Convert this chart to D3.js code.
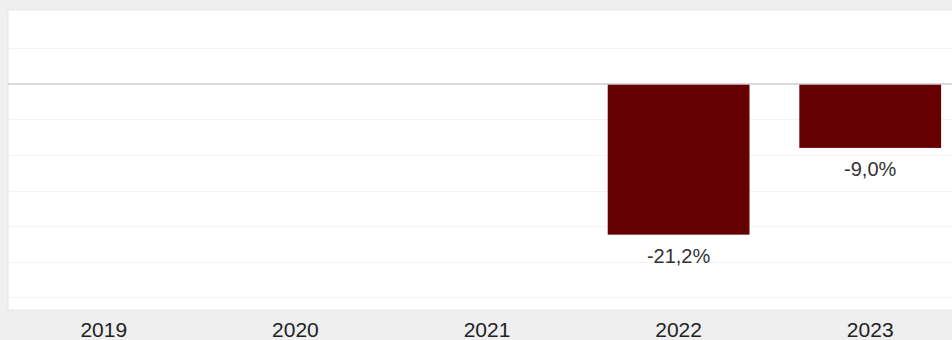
<!DOCTYPE html>
<html>
<head>
<meta charset="utf-8">
<script src="https://cdn.jsdelivr.net/npm/d3@7"></script>
<style>
	body { margin: 0; background: #efefef; }
	svg { display: block; }
	text { font-family: "Liberation Sans", Arial, sans-serif; }
</style>
</head>
<body>
<div id="chart"></div>
<script>

var years  = ["2019", "2020", "2021", "2022", "2023"];
var values = [null, null, null, -21.2, -9.0];
var gridValues = [5, 0, -5, -10, -15, -20, -25, -30];

var width  = 952,
	height = 340;

var plot = { left: 8, right: 966, top: 10, bottom: 310 };

var svg = d3.select("#chart")
	.append("svg")
	.attr("width", width)
	.attr("height", height);

var x = d3.scaleBand()
	.domain(years)
	.range([plot.left, plot.right])
	.paddingInner(0.26)
	.paddingOuter(0.13);

var y = d3.scaleLinear()
	.domain([10.4, -31.8])
	.range([plot.top, plot.bottom]);

var locale = d3.formatLocale({
	decimal: ",",
	thousands: ".",
	grouping: [3],
	currency: ["", " €"],
	minus: "-"
});
var fmt = locale.format(".1f");

// plot background
svg.append("rect")
	.attr("x", plot.left)
	.attr("y", plot.top)
	.attr("width", plot.right - plot.left)
	.attr("height", plot.bottom - plot.top)
	.style("fill", "#fff")
	.style("stroke", "#e6e6e6");

// grid lines
svg.append("g")
	.selectAll("line")
	.data(gridValues.filter(function(d) { return d !== 0; }))
	.enter()
	.append("line")
	.attr("x1", plot.left + 1)
	.attr("x2", plot.right)
	.attr("y1", function(d) { return Math.round(y(d)) + 0.5; })
	.attr("y2", function(d) { return Math.round(y(d)) + 0.5; })
	.style("stroke", "#f3f3f3")
	.style("stroke-width", 1);

// bars
var data = years.map(function(yr, i) {
	return { year: yr, value: values[i] };
}).filter(function(d) { return d.value !== null; });

svg.append("g")
	.selectAll("rect")
	.data(data)
	.enter()
	.append("rect")
	.attr("x", function(d) { return x(d.year); })
	.attr("y", function(d) { return y(Math.max(0, d.value)); })
	.attr("width", x.bandwidth())
	.attr("height", function(d) { return Math.abs(y(d.value) - y(0)); })
	.style("fill", "#660000");

// zero line
svg.append("line")
	.attr("x1", plot.left)
	.attr("x2", plot.right)
	.attr("y1", y(0))
	.attr("y2", y(0))
	.style("stroke", "#cfcfcf")
	.style("stroke-width", 1.5);

// value labels
svg.append("g")
	.selectAll("text")
	.data(data)
	.enter()
	.append("text")
	.attr("x", function(d) { return x(d.year) + x.bandwidth() / 2; })
	.attr("y", function(d) { return y(d.value) + 28; })
	.attr("text-anchor", "middle")
	.style("font-size", "20px")
	.style("fill", "#333")
	.text(function(d) { return fmt(d.value) + "%"; });

// x axis labels
var xAxis = d3.axisBottom(x).tickSize(0).tickPadding(0);

svg.append("g")
	.attr("transform", "translate(0," + plot.bottom + ")")
	.call(xAxis)
	.call(function(g) { g.select(".domain").remove(); })
	.selectAll("text")
	.attr("y", 27)
	.attr("dy", null)
	.style("font-size", "21px")
	.style("font-family", "'Liberation Sans', Arial, sans-serif")
	.style("fill", "#222");

</script>
</body>
</html>
